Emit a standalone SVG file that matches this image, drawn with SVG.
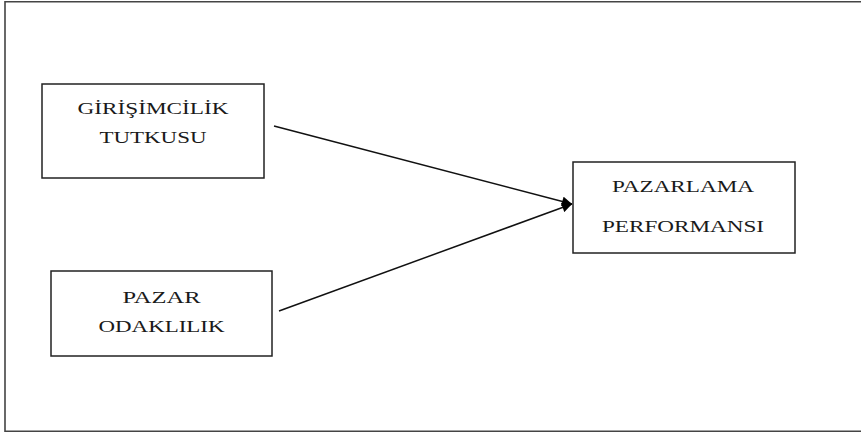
<svg xmlns="http://www.w3.org/2000/svg" width="861" height="435" viewBox="0 0 861 435">
<defs>
<style>
.frame{fill:none;stroke:#444;stroke-width:1.6}
.box{fill:#fff;stroke:#222;stroke-width:1.5}
.lbl{font-family:"Liberation Serif","Times New Roman",serif;font-size:17.5px;fill:#1a1a1a;text-anchor:middle}
.conn{stroke:#111;stroke-width:1.5;fill:none}
</style>
<marker id="ah" viewBox="0 0 10 10" refX="10" refY="5" markerWidth="12" markerHeight="10" markerUnits="userSpaceOnUse" orient="auto">
<path d="M0,0 L10,5 L0,10 z" fill="#000"/>
</marker>
</defs>
<rect x="0" y="0" width="861" height="435" fill="#fff"/>
<path class="frame" d="M5,432 V1.8 H861 M5,431.2 H861"/>
<g id="n1">
<rect class="box" x="42" y="84" width="222" height="94"/>
<text class="lbl" x="153" y="114" textLength="151" lengthAdjust="spacingAndGlyphs">GİRİŞİMCİLİK</text>
<text class="lbl" x="153" y="143" textLength="107" lengthAdjust="spacingAndGlyphs">TUTKUSU</text>
</g>
<g id="n2">
<rect class="box" x="51" y="271" width="221" height="85"/>
<text class="lbl" x="161.5" y="303" textLength="78" lengthAdjust="spacingAndGlyphs">PAZAR</text>
<text class="lbl" x="161.5" y="332" textLength="126" lengthAdjust="spacingAndGlyphs">ODAKLILIK</text>
</g>
<g id="n3">
<rect class="box" x="573" y="162" width="222" height="91"/>
<text class="lbl" x="683" y="192" textLength="142" lengthAdjust="spacingAndGlyphs">PAZARLAMA</text>
<text class="lbl" x="683" y="232" textLength="162" lengthAdjust="spacingAndGlyphs">PERFORMANSI</text>
</g>
<g id="connectors">
<line class="conn" x1="274" y1="126" x2="572" y2="204" marker-end="url(#ah)"/>
<line class="conn" x1="279" y1="311" x2="572" y2="204" marker-end="url(#ah)"/>
</g>
</svg>
